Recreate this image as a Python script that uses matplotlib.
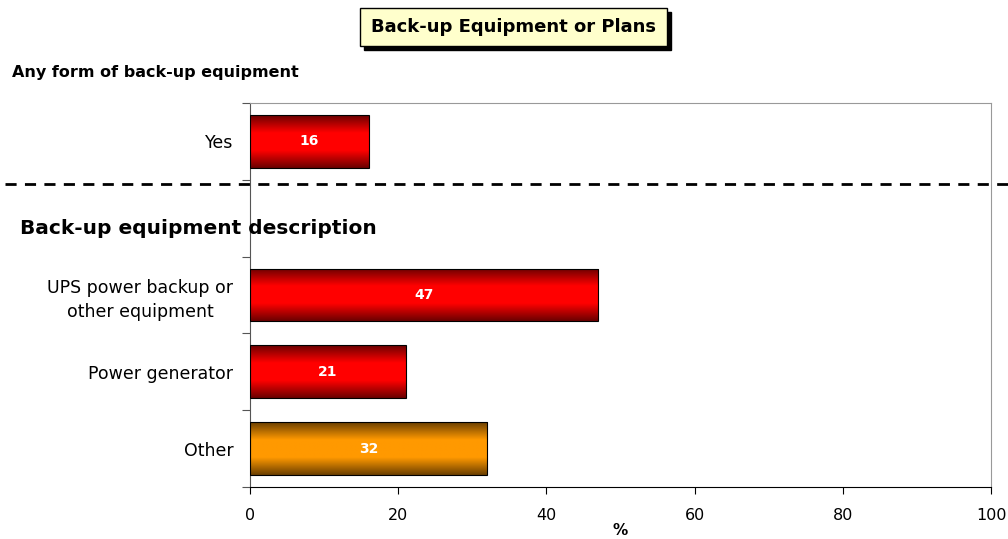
import matplotlib.pyplot as plt
import numpy as np
from matplotlib.colors import LinearSegmentedColormap
from matplotlib.transforms import blended_transform_factory
from matplotlib.patches import FancyBboxPatch

plt.rcParams['font.family'] = ['DejaVu Sans']

# data
categories = ['Yes', '', 'UPS power backup or\nother equipment', 'Power generator', 'Other']
values = [16, None, 47, 21, 32]
bar_kinds = ['red', None, 'red', 'red', 'orange']
x_ticks = [0, 20, 40, 60, 80, 100]

cmaps = {
    'red': LinearSegmentedColormap.from_list('r', ['#6a0000', '#ff0000', '#ff0000', '#6a0000']),
    'orange': LinearSegmentedColormap.from_list('o', ['#6b3f00', '#ff9900', '#ff9900', '#6b3f00']),
}

fig = plt.figure(figsize=(10.08, 5.39), dpi=100)
ax = fig.add_axes([250 / 1008, 1 - 487 / 539, 741 / 1008, 384 / 539])

n = len(categories)
ypos = np.arange(n)
grad = np.linspace(0, 1, 256).reshape(-1, 1)
for y, v, kind in zip(ypos, values, bar_kinds):
    if v is None:
        continue
    bar = ax.barh(y, v, height=0.69, color='none', edgecolor='black', linewidth=0.8, zorder=3)[0]
    im = ax.imshow(grad, cmap=cmaps[kind], aspect='auto', extent=(0, v, y + 0.345, y - 0.345),
                   zorder=2, interpolation='bilinear')
    im.set_clip_path(bar)
    ax.text(v / 2, y, str(v), color='white', ha='center', va='center',
            fontsize=10, fontweight='bold', zorder=4)

ax.set_xlim(0, 100)
ax.set_ylim(n - 0.5, -0.5)
ax.set_xticks(x_ticks)
ax.set_xticklabels([str(t) for t in x_ticks], fontsize=11.5)
ax.set_yticks(np.arange(n + 1) - 0.5)
ax.set_yticklabels([])
ax.set_yticks(ypos, minor=True)
ax.set_yticklabels(categories, minor=True, fontsize=12.5, linespacing=1.45)
for lab in ax.get_yticklabels(minor=True):
    lab.set_multialignment('center')
ax.tick_params(axis='y', which='minor', length=0, pad=12)
ax.tick_params(axis='y', which='major', length=6, direction='out', color='#555555')
ax.tick_params(axis='x', length=5, direction='out', pad=10)

for s in ['top', 'right']:
    ax.spines[s].set_color('#999999')
ax.spines['left'].set_color('#555555')
ax.spines['bottom'].set_color('black')

ax.set_xlabel('%', fontsize=11, fontweight='bold', labelpad=0)

# dashed separator across the whole figure
trans = blended_transform_factory(fig.transFigure, ax.transData)
ax.plot([5 / 1008, 1], [0.55, 0.55], transform=trans, color='black', linestyle=(0, (4, 3)),
        linewidth=2, clip_on=False, zorder=5)

# section headings
fig.text(12 / 1008, 1 - 72 / 539, 'Any form of back-up equipment', fontsize=11.5,
         fontweight='bold', va='center', ha='left')
fig.text(20 / 1008, 1 - 228 / 539, 'Back-up equipment description', fontsize=14.5,
         fontweight='bold', va='center', ha='left')

# title box with shadow
bx0, bx1, by0, by1 = 360 / 1008, 667 / 1008, 1 - 46 / 539, 1 - 8 / 539
shadow = FancyBboxPatch((bx0 + 4 / 1008, by0 - 4 / 539), bx1 - bx0, by1 - by0,
                        boxstyle='square,pad=0', transform=fig.transFigure,
                        facecolor='black', edgecolor='black')
box = FancyBboxPatch((bx0, by0), bx1 - bx0, by1 - by0, boxstyle='square,pad=0',
                     transform=fig.transFigure, facecolor='#ffffcc', edgecolor='black', linewidth=1)
fig.patches.extend([shadow, box])
fig.text((bx0 + bx1) / 2, (by0 + by1) / 2, 'Back-up Equipment or Plans', fontsize=13,
         fontweight='bold', ha='center', va='center')

fig.savefig('out.png', dpi=100)
